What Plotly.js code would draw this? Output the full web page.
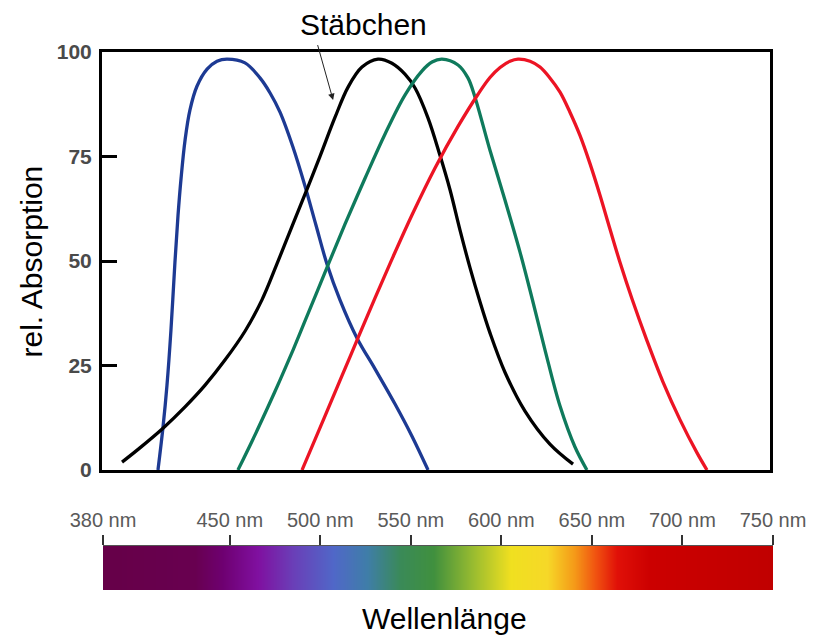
<!DOCTYPE html>
<html>
<head>
<meta charset="utf-8">
<script src="https://cdn.plot.ly/plotly-3.0.1.min.js"></script>
<style>html,body{margin:0;padding:0;background:#fff;}#chart{width:814px;height:637px;}</style>
</head>
<body>
<div id="chart"></div>
<script>
// Blue cone (S)
const blueNm  = [411.0, 413.8, 416.0, 418.2, 420.4, 422.1, 423.8, 426.0, 428.7, 432.6, 438.2, 443.7, 449.2, 459.2, 467.5, 473.1, 478.6, 485.8, 492.4, 498.5, 504.6, 511.8, 521.2, 531.2, 542.3, 551.7, 560.6];
const blueVal = [0, 10.3, 20.3, 33.5, 49.7, 60.9, 69.8, 78.9, 86.1, 91.8, 95.9, 97.8, 98.3, 97.4, 93.8, 90.2, 85.6, 77.2, 68.0, 58.6, 49.3, 40.7, 31.6, 24.2, 15.8, 8.1, 0];
// Rods (Stäbchen)
const rodNm  = [391.1, 401.0, 413.8, 426.0, 437.1, 448.1, 459.2, 468.6, 476.9, 485.8, 493.6, 500.8, 509.1, 516.3, 524.0, 532.9, 540.6, 547.8, 553.4, 560.6, 567.2, 572.8, 578.3, 583.9, 589.4, 594.9, 603.2, 614.3, 628.1, 640.9];
const rodVal = [1.9, 5.3, 10.0, 15.1, 20.3, 26.3, 33.2, 40.7, 49.3, 58.9, 67.2, 75.1, 84.4, 91.6, 96.4, 98.3, 97.3, 94.7, 91.4, 84.2, 75.3, 67.0, 57.4, 48.3, 40.2, 32.8, 23.4, 14.1, 6.2, 1.4];
// Green cone (M)
const greenNm  = [455.3, 463.1, 471.4, 478.6, 485.8, 492.4, 499.1, 506.3, 514.6, 525.7, 536.8, 547.8, 557.3, 562.8, 568.3, 577.2, 582.7, 586.6, 594.9, 603.2, 611.5, 618.2, 625.4, 633.7, 642.0, 648.6];
const greenVal = [0, 6.9, 14.6, 21.5, 28.7, 35.6, 42.6, 50.2, 58.8, 69.8, 80.4, 89.7, 95.5, 97.6, 98.3, 96.9, 93.8, 89.2, 76.5, 64.6, 52.2, 41.1, 28.7, 15.3, 5.5, 0];
// Red cone (L)
const redNm  = [490.8, 503.5, 512.9, 521.8, 531.2, 541.2, 551.7, 564.4, 577.2, 588.3, 594.9, 600.5, 606.0, 610.4, 617.1, 622.6, 628.1, 633.7, 639.2, 644.8, 650.3, 655.8, 661.4, 666.9, 673.6, 681.9, 690.7, 700.2, 709.6, 715.1];
const redVal = [0, 12.9, 22.5, 31.6, 41.1, 51.0, 61.0, 72.2, 82.2, 89.9, 93.9, 96.3, 97.8, 98.3, 97.8, 96.4, 93.8, 90.4, 85.6, 80.0, 73.3, 65.8, 57.6, 49.7, 40.9, 30.9, 21.1, 12.0, 4.1, 0];

// Axis ticks
const yTicks = [0, 25, 50, 75, 100];
const nmTicks = [380, 450, 500, 550, 600, 650, 700, 750];
const nmTickText = ['380 nm', '450 nm', '500 nm', '550 nm', '600 nm', '650 nm', '700 nm', '750 nm'];

// Spectrum bar colour stops
const spectrumNm = [380, 430, 445, 465, 485, 507, 526, 544, 562, 584, 605, 625, 640, 652, 664, 682, 750];
const spectrumColors = ['#660048', '#680050', '#6e0070', '#8010a0', '#6a40b8', '#5068c8', '#3f7ea8', '#3a8a58', '#40903e', '#98bc30', '#f0e020', '#f6d828', '#f59a18', '#f05010', '#e01008', '#cc0000', '#c00000'];

const nmMin = 380, nmMax = 750;
const colorscale = spectrumNm.map((v, i) => [(v - nmMin) / (nmMax - nmMin), spectrumColors[i]]);

function curve(x, y, color) {
  return {x: x, y: y, type: 'scatter', mode: 'lines', xaxis: 'x', yaxis: 'y',
    line: {color: color, width: 3.3, shape: 'spline', smoothing: 1}, hoverinfo: 'skip'};
}

const data = [
  {type: 'heatmap', x: spectrumNm, y: [0, 1], z: [spectrumNm, spectrumNm],
   zmin: nmMin, zmax: nmMax, colorscale: colorscale, zsmooth: 'best', showscale: false,
   xaxis: 'x2', yaxis: 'y2', hoverinfo: 'skip'},
  curve(blueNm, blueVal, '#1d3a93'),
  curve(rodNm, rodVal, '#000000'),
  curve(greenNm, greenVal, '#0f7a5c'),
  curve(redNm, redVal, '#ec1424')
];

const font = 'Liberation Sans, Arial, sans-serif';

const layout = {
  width: 814, height: 637,
  margin: {l: 102, r: 41, t: 52, b: 47},
  paper_bgcolor: '#ffffff', plot_bgcolor: '#ffffff',
  showlegend: false,
  font: {family: font},
  xaxis: {domain: [0, 0.9955], range: [nmMin, nmMax], showline: true, mirror: true,
    linewidth: 3, linecolor: '#000', showgrid: false, zeroline: false,
    ticks: '', showticklabels: false, anchor: 'y'},
  yaxis: {domain: [0.223, 1], range: [0, 100], showline: true, mirror: true,
    linewidth: 3, linecolor: '#000', showgrid: false, zeroline: false,
    ticks: 'inside', ticklen: 15, tickwidth: 3, tickcolor: '#000',
    tickvals: yTicks, ticktext: yTicks.map(String), ticklabelstandoff: 3,
    tickfont: {family: font, size: 21, color: '#4a4a4a', weight: 'bold'}, anchor: 'x'},
  xaxis2: {domain: [0.0015, 1], range: [nmMin, nmMax], anchor: 'y2', side: 'top',
    showline: true, linewidth: 1, linecolor: '#555', showgrid: false, zeroline: false,
    ticks: 'outside', ticklen: 10, tickwidth: 2, tickcolor: '#333',
    tickvals: nmTicks, ticktext: nmTickText,
    tickfont: {family: font, size: 20, color: '#5a5a5a'}},
  yaxis2: {domain: [0, 0.0818], range: [0, 1], anchor: 'x2', visible: false, fixedrange: true},
  annotations: [
    {text: 'Stäbchen', xref: 'paper', yref: 'paper', x: 0.389, y: 1.052, showarrow: false,
     font: {family: font, size: 30, color: '#000'}, xanchor: 'center', yanchor: 'middle'},
    {text: ' ', xref: 'x', yref: 'y', x: 508, y: 88.5, showarrow: true,
     ax: -16, ay: -57, arrowhead: 2, arrowsize: 1.3, arrowwidth: 1, arrowcolor: '#222',
     font: {size: 1}},
    {text: 'rel. Absorption', xref: 'paper', yref: 'paper', x: -0.1058, y: 0.6106,
     textangle: -90, showarrow: false, font: {family: font, size: 30, color: '#000'},
     xanchor: 'center', yanchor: 'middle'},
    {text: 'Wellenlänge', xref: 'paper', yref: 'paper', x: 0.5097, y: -0.0539,
     showarrow: false, font: {family: font, size: 30, color: '#000'},
     xanchor: 'center', yanchor: 'middle'}
  ]
};

Plotly.newPlot('chart', data, layout, {displayModeBar: false, staticPlot: true});
</script>
</body>
</html>
